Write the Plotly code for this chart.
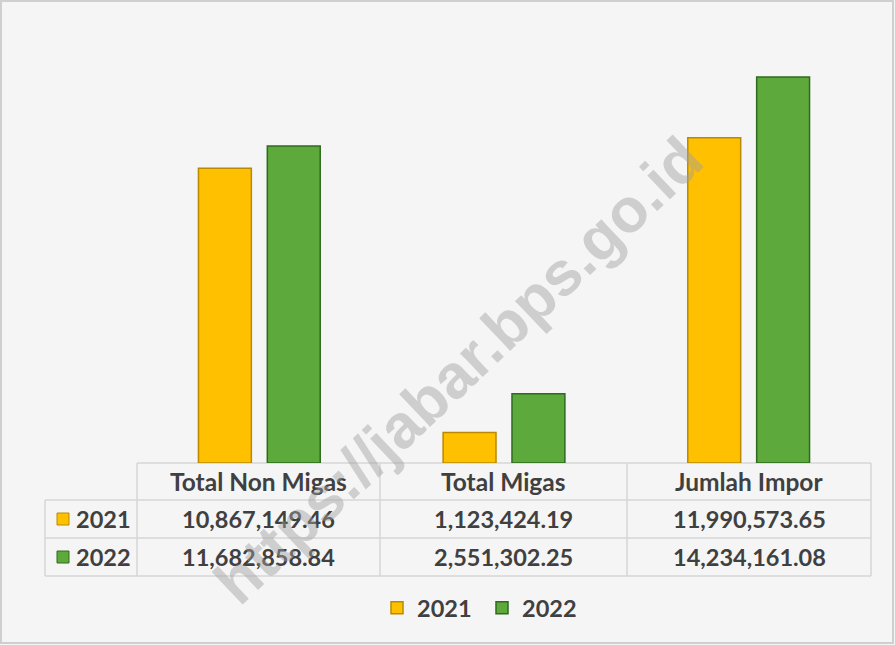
import plotly.graph_objects as go

categories = ["Total Non Migas", "Total Migas", "Jumlah Impor"]
series_names = ["2021", "2022"]
values_2021 = [10867149.46, 1123424.19, 11990573.65]
values_2022 = [11682858.84, 2551302.25, 14234161.08]
colors = ["#FFC000", "#5EA93B"]
line_colors = ["#B98A00", "#2F6B1E"]
watermark = "https://jabar.bps.go.id"

W, H = 895, 645
L, R, T, B = 137, 24, 29, 182
pw, ph = W - L - R, H - T - B

def px(x):
    return (x - L) / pw

def py(y):
    return (H - B - y) / ph

fig = go.Figure()
for name, vals, c, lc in zip(series_names, [values_2021, values_2022], colors, line_colors):
    fig.add_trace(go.Bar(x=categories, y=vals, name="<b>%s</b>" % name,
                         marker=dict(color=c, line=dict(color=lc, width=1.5))))

font = "Lato, Carlito, 'Open Sans', sans-serif"
txt = "#404040"
grid = "#D6D6D6"
shapes = []
annotations = []

col_x = [45, 137, 380, 627, 871]
row_y = [463, 500, 538, 576]

def hline(y, x0, x1):
    shapes.append(dict(type="line", xref="paper", yref="paper", x0=px(x0), x1=px(x1),
                       y0=py(y), y1=py(y), line=dict(color=grid, width=1.5), layer="below"))

def vline(x, y0, y1):
    shapes.append(dict(type="line", xref="paper", yref="paper", x0=px(x), x1=px(x),
                       y0=py(y0), y1=py(y1), line=dict(color=grid, width=1.5), layer="below"))

hline(row_y[0], col_x[1], col_x[4])
for y in row_y[1:]:
    hline(y, col_x[0], col_x[4])
vline(col_x[0], row_y[1], row_y[3])
for x in col_x[1:]:
    vline(x, row_y[0], row_y[3])

def ann(x, y, text, size=23.5, xanchor="center", **kw):
    d = dict(x=px(x), y=py(y), xref="paper", yref="paper", text=text, showarrow=False,
             xanchor=xanchor, yanchor="middle", font=dict(family=font, size=size, color=txt))
    d.update(kw)
    annotations.append(d)

for i, cat in enumerate(categories):
    cx = (col_x[i + 1] + col_x[i + 2]) / 2
    ann(cx, (row_y[0] + row_y[1]) / 2, "<b>%s</b>" % cat, size=24.5)
    for r, vals in enumerate([values_2021, values_2022]):
        ann(cx, (row_y[r + 1] + row_y[r + 2]) / 2, "<b>%s</b>" % f"{vals[i]:,.2f}")

for r, (name, c, lc) in enumerate(zip(series_names, colors, line_colors)):
    yc = (row_y[r + 1] + row_y[r + 2]) / 2
    shapes.append(dict(type="rect", xref="paper", yref="paper", x0=px(57), x1=px(69),
                       y0=py(yc - 6), y1=py(yc + 6), fillcolor=c, line=dict(color=lc, width=1)))
    ann(74, yc, "<b>%s</b>" % name, xanchor="left")

annotations.append(dict(x=px(458), y=py(370), xref="paper", yref="paper", text="<b>%s</b>" % watermark,
                        showarrow=False, textangle=-43.5, xanchor="center", yanchor="middle",
                        font=dict(family="'Liberation Sans', Arial, sans-serif", size=62,
                                  color="rgba(160,160,160,0.45)")))

shapes.append(dict(type="rect", xref="paper", yref="paper", x0=px(1), x1=px(W - 2), y0=py(1), y1=py(H - 2),
                   line=dict(color="#CFCFCF", width=2), layer="below"))

fig.update_layout(
    width=W, height=H,
    margin=dict(l=L, r=R, t=T, b=B, autoexpand=False),
    paper_bgcolor="#F5F5F5", plot_bgcolor="#F5F5F5",
    barmode="group", bargap=0.437, bargroupgap=0.232,
    xaxis=dict(showticklabels=False, showgrid=False, zeroline=False, showline=False, ticks=""),
    yaxis=dict(range=[0, 16000000], visible=False),
    showlegend=True,
    legend=dict(orientation="h", x=px(377), xanchor="left", y=py(608), yanchor="middle",
                font=dict(family=font, size=23.5, color=txt), bgcolor="rgba(0,0,0,0)",
                itemwidth=30, entrywidth=60, entrywidthmode="pixels", traceorder="normal"),
    shapes=shapes, annotations=annotations,
)

fig.write_html("out.html", config={"displayModeBar": False},
               post_script="document.body.style.margin='0';document.body.style.padding='0';")
